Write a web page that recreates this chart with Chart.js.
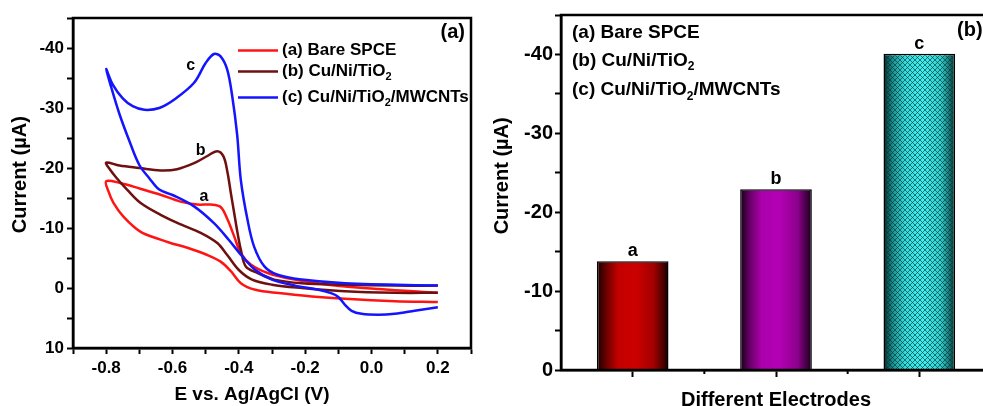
<!DOCTYPE html>
<html><head><meta charset="utf-8">
<script src="https://cdn.jsdelivr.net/npm/chart.js@4/dist/chart.umd.min.js"></script>
<style>
html,body{margin:0;padding:0;width:983px;height:406px;overflow:hidden;background:#fff;}
#wa{position:absolute;left:0;top:0;width:490px;height:406px;}
#wb{position:absolute;left:490px;top:0;width:520px;height:406px;}
</style></head><body>
<div id="wa"><canvas id="ca" width="490" height="406"></canvas></div>
<div id="wb"><canvas id="cb" width="520" height="406"></canvas></div>
<script>
// ---------- Panel (a): cyclic voltammograms (E in V, I in µA), loop order ----------
const bareE = [0.2,0.07,-0.08,-0.18,-0.28,-0.35,-0.394,-0.424,-0.455,-0.495,-0.555,-0.606,-0.636,-0.697,-0.748,-0.778,-0.793,-0.8,
  -0.758,-0.697,-0.636,-0.576,-0.525,-0.485,-0.455,-0.434,-0.414,-0.394,-0.364,-0.313,-0.232,-0.131,0.02,0.2];
const bareI = [2.35,2.2,1.8,1.4,0.85,0.3,-0.8,-2.8,-4.4,-5.5,-6.7,-7.5,-8.05,-9.4,-11.9,-14.2,-16.1,-17.8,
  -17.5,-16.55,-15.55,-14.4,-13.9,-13.9,-13.5,-11.4,-8.6,-5.8,-3.9,-2.5,-1.4,-0.55,0.17,0.8];

const cuNiE = [0.2,0.07,-0.08,-0.21,-0.3,-0.36,-0.4,-0.435,-0.465,-0.515,-0.575,-0.636,-0.697,-0.737,-0.768,-0.788,-0.8,
  -0.76,-0.7,-0.636,-0.586,-0.535,-0.495,-0.465,-0.446,-0.434,-0.424,-0.414,-0.404,-0.394,-0.379,-0.343,-0.293,-0.21,-0.08,0.07,0.2];
const cuNiI = [0.8,0.8,0.55,0.0,-0.55,-1.4,-3.0,-5.5,-7.5,-9.2,-10.6,-12.2,-14.2,-16.4,-18.3,-19.7,-20.9,
  -20.4,-20.0,-19.6,-19.8,-20.8,-22.0,-22.8,-21.9,-19.2,-15.8,-12.5,-9.2,-6.4,-3.6,-2.5,-1.4,-0.8,-0.55,-0.4,-0.4];

const mwcntE = [0.2,0.13,0.07,0.02,-0.03,-0.06,-0.08,-0.1,-0.12,-0.16,-0.23,-0.3,-0.35,-0.39,-0.43,-0.475,-0.535,-0.6,-0.64,-0.67,-0.7,-0.73,-0.76,-0.785,-0.8,
  -0.78,-0.75,-0.72,-0.685,-0.64,-0.59,-0.535,-0.5,-0.475,-0.455,-0.435,-0.42,-0.405,-0.394,-0.374,-0.354,-0.323,-0.283,-0.21,-0.08,0.2];
const mwcntI = [3.2,3.8,4.3,4.45,4.3,3.8,2.8,1.5,0.9,0.3,-0.4,-1.4,-3.0,-5.3,-8.0,-10.8,-13.6,-15.5,-16.4,-18.3,-20.5,-24.5,-29.0,-33.5,-36.5,
  -33.9,-31.6,-30.3,-29.7,-30.0,-31.6,-34.2,-37.5,-39.0,-38.6,-36.4,-32.0,-25.5,-18.0,-11.4,-6.9,-3.6,-2.2,-1.4,-0.8,-0.4];

const seriesLabels = ['(a) Bare SPCE', '(b) Cu/Ni/TiO₂', '(c) Cu/Ni/TiO₂/MWCNTs'];
const curveTags = ['a', 'b', 'c'];

// ---------- Panel (b): peak currents (µA) ----------
const electrodes = ['a', 'b', 'c'];
const peakCurrents = [-13.8, -22.9, -40.1];

// ---------- styles ----------
const FONT = "'Liberation Sans', Arial, Helvetica, sans-serif";
const lineColors = ['#ff1414', '#6e1010', '#1414ff'];
const barStops = [
  [[0,'#140000'],[0.13,'#6a0000'],[0.3,'#c40000'],[0.55,'#cc0000'],[0.8,'#a00000'],[0.93,'#480000'],[1,'#120000']],
  [[0,'#140014'],[0.13,'#660066'],[0.3,'#ac00ac'],[0.55,'#b400b4'],[0.8,'#8c008c'],[0.93,'#420042'],[1,'#120012']],
  [[0,'#062a2a'],[0.13,'#1a9090'],[0.3,'#34dcdc'],[0.55,'#44f0f0'],[0.8,'#30d0d0'],[0.93,'#157070'],[1,'#062a2a']]
];

Chart.defaults.font.family = FONT;
Chart.defaults.font.weight = 'bold';
Chart.defaults.color = '#000';
Chart.defaults.animation = false;

function drawRich(ctx, text, x, y, size, align) {
  const parts = []; let buf = '';
  for (const ch of text) {
    if (ch === '₂') { if (buf) parts.push({t: buf, sub: false}); buf = ''; parts.push({t: '2', sub: true}); }
    else buf += ch;
  }
  if (buf) parts.push({t: buf, sub: false});
  const fN = 'bold ' + size + 'px ' + FONT, fS = 'bold ' + Math.round(size * 0.62) + 'px ' + FONT;
  let w = 0;
  parts.forEach(p => { ctx.font = p.sub ? fS : fN; p.w = ctx.measureText(p.t).width; w += p.w; });
  let cx = align === 'right' ? x - w : (align === 'center' ? x - w / 2 : x);
  ctx.textBaseline = 'middle'; ctx.textAlign = 'left';
  parts.forEach(p => { ctx.font = p.sub ? fS : fN; ctx.fillText(p.t, cx, p.sub ? y + size * 0.34 : y); cx += p.w; });
}

const pts = (E, I) => E.map((e, i) => ({x: e, y: I[i]}));

// ---------- Panel (a) ----------
const panelA = {
  id: 'panelA',
  afterDraw(chart, _a, o) {
    const {ctx, chartArea: a, scales} = chart;
    ctx.save();
    ctx.strokeStyle = '#000'; ctx.lineWidth = 2.5;
    ctx.strokeRect(a.left, a.top, a.right - a.left, a.bottom - a.top);
    ctx.fillStyle = '#000';
    chart.data.datasets.forEach((ds, i) => {
      const yy = o.rows[i];
      ctx.strokeStyle = ds.borderColor; ctx.lineWidth = 2.5;
      ctx.beginPath(); ctx.moveTo(o.lx, yy); ctx.lineTo(o.lx + o.len, yy); ctx.stroke();
      drawRich(ctx, ds.label, o.lx + o.len + 4, yy, 17, 'left');
    });
    o.tags.forEach((t, i) => {
      drawRich(ctx, curveTags[i], scales.x.getPixelForValue(t[0]), scales.y.getPixelForValue(t[1]), 16, 'center');
    });
    drawRich(ctx, '(a)', a.right - 6, 32, 20, 'right');
    ctx.restore();
  }
};

const tickGrid = (len) => ({display: true, drawOnChartArea: false, drawTicks: true, tickLength: len, tickWidth: 2, tickColor: '#000', color: '#000'});

new Chart(document.getElementById('ca'), {
  type: 'line',
  data: {
    datasets: [
      {label: seriesLabels[0], data: pts(bareE, bareI), borderColor: lineColors[0], order: 2},
      {label: seriesLabels[1], data: pts(cuNiE, cuNiI), borderColor: lineColors[1], order: 1},
      {label: seriesLabels[2], data: pts(mwcntE, mwcntI), borderColor: lineColors[2], order: 0}
    ]
  },
  options: {
    responsive: false,
    layout: {padding: {left: 33, right: 19, top: 18, bottom: 0}},
    elements: {line: {borderWidth: 2.5, tension: 0.35, fill: false}, point: {radius: 0}},
    plugins: {
      legend: {display: false}, tooltip: {enabled: false},
      title: {display: true, position: 'bottom', text: 'E vs. Ag/AgCl (V)', font: {size: 19, weight: 'bold'}, color: '#000', padding: {top: 0, bottom: 0}},
      panelA: {lx: 238, len: 40, rows: [50.5, 71.5, 97.5], tags: [[-0.505, -15.3], [-0.515, -22.9], [-0.545, -37]]}
    },
    scales: {
      x: {
        type: 'linear', min: -0.9, max: 0.3,
        ticks: {stepSize: 0.1, autoSkip: false, maxRotation: 0, padding: 4, font: {size: 17, weight: 'bold'}, color: '#000',
          callback: v => { const k = Math.round(v * 10); return (k % 2 === 0) ? (k / 10).toFixed(1) : ''; }},
        grid: tickGrid(6),
        border: {display: true, color: '#000', width: 2.5},
        afterFit(s) { s.height = 406 - 22.8 - 348; }
      },
      y: {
        type: 'linear', reverse: true, min: -45, max: 10,
        ticks: {stepSize: 5, autoSkip: false, padding: 3, font: {size: 17, weight: 'bold'}, color: '#000',
          callback: v => (v % 10 === 0 ? String(v) : '')},
        grid: tickGrid(6),
        border: {display: true, color: '#000', width: 2.5},
        title: {display: true, text: '   Current (µA)', font: {size: 20, weight: 'bold'}, color: '#000', padding: {top: -25, bottom: 0}},
        afterFit(s) { s.width = 40; }
      }
    }
  },
  plugins: [panelA]
});

// ---------- Panel (b) ----------
function barFill(c) {
  const chart = c.chart, xs = chart.scales && chart.scales.x, i = c.dataIndex;
  const base = ['#c80000', '#b000b0', '#38e8e8'];
  if (!xs || i === undefined || !chart.chartArea) return base[i] || '#888';
  const cx = xs.getPixelForValue(i);
  const hw = (xs.width / electrodes.length) * 0.5 / 2;
  const stops = barStops[i];
  if (i < 2) {
    const g = chart.ctx.createLinearGradient(cx - hw, 0, cx + hw, 0);
    stops.forEach(s => g.addColorStop(s[0], s[1]));
    return g;
  }
  const P = 5;
  const off = document.createElement('canvas'); off.width = chart.width; off.height = P;
  const o = off.getContext('2d');
  const g = o.createLinearGradient(cx - hw, 0, cx + hw, 0);
  stops.forEach(s => g.addColorStop(s[0], s[1]));
  o.fillStyle = g; o.fillRect(0, 0, off.width, P);
  o.strokeStyle = 'rgba(0,45,45,0.6)'; o.lineWidth = 1;
  for (let k = -2; k * P < off.width + 2 * P; k++) {
    o.beginPath(); o.moveTo(k * P, 0); o.lineTo(k * P + P, P); o.moveTo(k * P + P, 0); o.lineTo(k * P, P); o.stroke();
  }
  return chart.ctx.createPattern(off, 'repeat');
}

const panelB = {
  id: 'panelB',
  afterDraw(chart, _a, o) {
    const {ctx, chartArea: a, scales} = chart;
    ctx.save();
    ctx.strokeStyle = '#000'; ctx.lineWidth = 2.5;
    ctx.strokeRect(a.left, a.top, a.right - a.left, a.bottom - a.top);
    ctx.lineWidth = 2;
    [0.5, 1.5].forEach(v => {
      const px = scales.x.getPixelForValue(v);
      ctx.beginPath(); ctx.moveTo(px, a.bottom); ctx.lineTo(px, a.bottom + 4); ctx.stroke();
    });
    ctx.fillStyle = '#000';
    peakCurrents.forEach((v, i) => {
      drawRich(ctx, electrodes[i], scales.x.getPixelForValue(i), scales.y.getPixelForValue(v) - 10, 18, 'center');
    });
    seriesLabels.forEach((t, i) => drawRich(ctx, t, o.lx, o.rows[i], 19, 'left'));
    drawRich(ctx, '(b)', 467, 30, 20, 'left');
    ctx.restore();
  }
};

new Chart(document.getElementById('cb'), {
  type: 'bar',
  data: {
    labels: electrodes,
    datasets: [{label: 'Peak current', data: peakCurrents, backgroundColor: barFill, borderColor: '#000', borderWidth: 1.5,
      barPercentage: 0.5, categoryPercentage: 1.0}]
  },
  options: {
    responsive: false,
    layout: {padding: {left: 0, right: 19, top: 15, bottom: 0}},
    plugins: {legend: {display: false}, tooltip: {enabled: false}, panelB: {lx: 82, rows: [33, 60.5, 90]}},
    scales: {
      x: {
        type: 'category',
        ticks: {display: false},
        grid: Object.assign(tickGrid(7), {offset: false}),
        border: {display: true, color: '#000', width: 2.5},
        title: {display: true, text: 'Different Electrodes', font: {size: 20, weight: 'bold'}, color: '#000', padding: {top: 0, bottom: -6}},
        afterFit(s) { s.height = 36; }
      },
      y: {
        type: 'linear', reverse: true, min: -45, max: 0,
        ticks: {stepSize: 5, autoSkip: false, padding: 2, font: {size: 20, weight: 'bold'}, color: '#000',
          callback: v => (v % 10 === 0 ? String(v) : '')},
        grid: tickGrid(6),
        border: {display: true, color: '#000', width: 2.5},
        title: {display: true, text: '      Current (µA)', font: {size: 20, weight: 'bold'}, color: '#000', padding: {top: 0, bottom: 0}},
        afterFit(s) { s.width = 71; }
      }
    }
  },
  plugins: [panelB]
});
</script>
</body></html>
